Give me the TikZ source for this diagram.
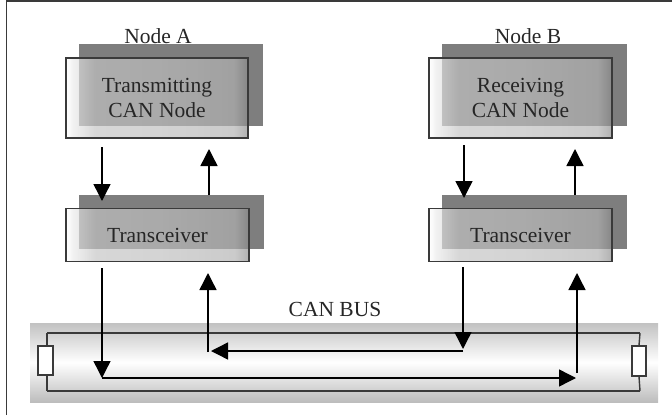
\documentclass[tikz,border=0pt]{standalone}
\usepackage{fontspec}
\setmainfont{Liberation Serif}
\usetikzlibrary{arrows.meta,backgrounds}
\definecolor{lineC}{HTML}{3A3A3A}
\definecolor{shadowC}{HTML}{7E7E7E}
\definecolor{txtC}{HTML}{262626}
\pgfdeclarehorizontalshading{boxsh}{100bp}{color(0bp)=(white); color(25bp)=(white); color(27bp)=(black!8); color(33bp)=(black!23); color(50bp)=(black!25); color(71bp)=(black!30); color(75bp)=(black!45); color(100bp)=(black!45)}
\begin{document}
\begin{tikzpicture}[x=1pt,y=-1pt,
  frontbox/.style={draw=lineC, line width=1.3pt, inner sep=0pt,
    shading=boxsh, fill opacity=0.68, text opacity=1, text=txtC, align=center,
    font=\fontsize{21.5}{25}\selectfont},
  shadowbox/.style={fill=shadowC},
  lbl/.style={text=txtC, font=\fontsize{21.5}{25}\selectfont, inner sep=0pt},
  arr/.style={draw=black, line width=1.4pt, -{Triangle[length=17pt,width=17pt]}},
  busline/.style={draw=lineC, line width=1.4pt},
  resist/.style={draw=lineC, line width=1.3pt, fill=white},
]
\useasboundingbox (0,0) rectangle (672,415);
% frame (top and left edges)
\draw[lineC, line width=1.5pt] (6.5,415) -- (6.5,1) -- (672,1);

% boxes
\node[frontbox, minimum width=182pt, minimum height=80pt] (ta) at (157,98) {Transmitting\\CAN Node};
\node[frontbox, minimum width=183pt, minimum height=53pt] (tx) at (157.5,235) {Transceiver};
\node[frontbox, minimum width=183pt, minimum height=80pt] (rb) at (520.5,98) {Receiving\\CAN Node};
\node[frontbox, minimum width=183pt, minimum height=53pt] (rx) at (520.5,235) {Transceiver};

\begin{scope}[on background layer]
  \foreach \n in {ta,tx,rb,rx}
    \fill[shadowbox] ([shift={(14,-13)}]\n.south west) rectangle ([shift={(14,-13)}]\n.north east);
  % bus band
  \shade[top color=black!24, bottom color=black!26, middle color=white] (30,323) rectangle (658,402);
\end{scope}

% labels
\node[lbl] (na) at (158,36) {Node A};
\node[lbl] (nb) at (528,36) {Node B};
\node[lbl] (bus) at (335,309) {CAN BUS};

% bus wires and terminators
\draw[busline] (47,333) -- (640,333);
\draw[busline] (47,391) -- (640,391);
\node[resist, minimum width=15pt, minimum height=29pt, inner sep=0pt] (rl) at (45.5,360.5) {};
\node[resist, minimum width=14pt, minimum height=30pt, inner sep=0pt] (rr) at (639,361) {};
\draw[busline] (47,333) -- (rl.north -| 47,0);
\draw[busline] (rl.south -| 47,0) -- (47,391);
\draw[busline] (640,333) -- (rr.north);
\draw[busline] (rr.south) -- (640,391);

% coordinates
\coordinate (a1s) at (102,147);
\coordinate (a1e) at (102,201);
\coordinate (a2s) at (209,195);
\coordinate (a2e) at (209,149);
\coordinate (b1s) at (464,145);
\coordinate (b1e) at (464,198);
\coordinate (b2s) at (575,195);
\coordinate (b2e) at (575,149);
\coordinate (ad) at (102,268);
\coordinate (ac) at (102,378);
\coordinate (ar) at (576,378);
\coordinate (bu0) at (577,373);
\coordinate (bu1) at (577,273);
\coordinate (bd) at (463,267);
\coordinate (bc) at (463,349);
\coordinate (bl0) at (463,351);
\coordinate (bl1) at (211,351);
\coordinate (au0) at (208,352);
\coordinate (au1) at (208,273);

% node <-> transceiver arrows
\draw[arr] (a1s) -- (a1e);
\draw[arr] (a2s) -- (a2e);
\draw[arr] (b1s) -- (b1e);
\draw[arr] (b2s) -- (b2e);

% bus flows
\draw[arr] (ad) -- (ac);
\draw[arr] (ac) -- (ar);
\draw[arr] (bu0) -- (bu1);
\draw[arr] (bd) -- (bc);
\draw[arr] (bl0) -- (bl1);
\draw[arr] (au0) -- (au1);
\end{tikzpicture}
\end{document}
